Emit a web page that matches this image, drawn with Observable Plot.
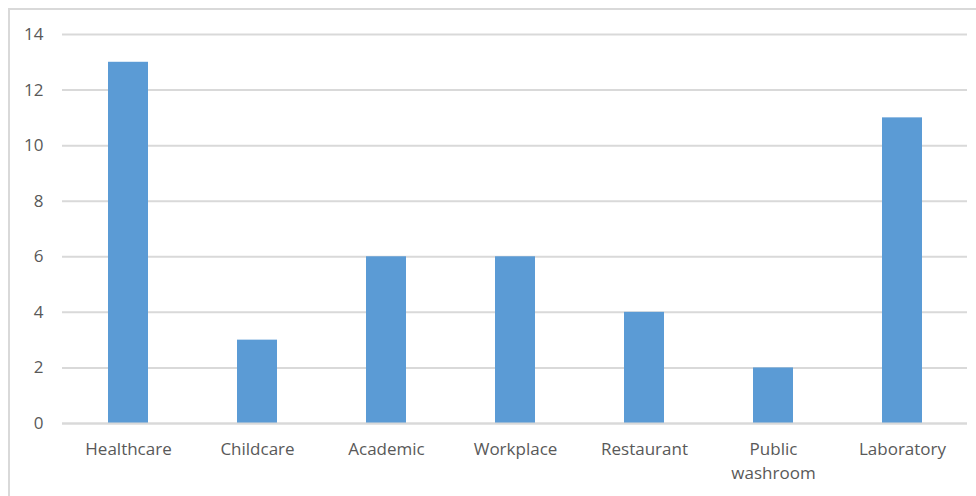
<!DOCTYPE html>
<html>
<head>
<meta charset="utf-8">
<script src="https://cdn.jsdelivr.net/npm/d3@7"></script>
<script src="https://cdn.jsdelivr.net/npm/@observablehq/plot@0.6"></script>
<style>
  html, body { margin: 0; padding: 0; background: #fff; }
  #wrap { position: relative; width: 976px; height: 496px; overflow: hidden; }
  #frame { position: absolute; left: 8px; top: 8px; width: 980px; height: 500px;
           border-top: 2px solid #d9d9d9; border-left: 2px solid #d9d9d9; box-sizing: border-box; }
  #chart { position: absolute; left: 0; top: 0; }
</style>
</head>
<body>
<div id="wrap"><div id="frame"></div><div id="chart"></div></div>
<script>
const categories = ["Healthcare", "Childcare", "Academic", "Workplace", "Restaurant", "Public washroom", "Laboratory"];
const values = [13, 3, 6, 6, 4, 2, 11];
const yTicks = [0, 2, 4, 6, 8, 10, 12, 14];
const xLabels = ["Healthcare", "Childcare", "Academic", "Workplace", "Restaurant", "Public\nwashroom", "Laboratory"];

const data = categories.map((c, i) => ({category: c, value: values[i]}));
const labelOf = new Map(categories.map((c, i) => [c, xLabels[i]]));

const chart = Plot.plot({
  width: 976,
  height: 496,
  marginLeft: 62,
  marginRight: 9,
  marginTop: 34,
  marginBottom: 73,
  style: {fontFamily: "'Open Sans', sans-serif", fontSize: "17px", color: "#595959", background: "transparent"},
  x: {domain: categories, paddingInner: 0.69, paddingOuter: 0.345, label: null},
  y: {domain: [0, 14], label: null},
  marks: [
    Plot.gridY(yTicks, {stroke: "#d9d9d9", strokeOpacity: 1, strokeWidth: 2}),
    Plot.barY(data, {x: "category", y: "value", fill: "#5b9bd5"}),
    Plot.ruleY([0], {stroke: "#d9d9d9", strokeWidth: 2}),
    Plot.axisY(yTicks, {tickSize: 0, tickPadding: 19, fill: "#595959", fontSize: 17, label: null}),
    Plot.axisX({tickSize: 0, tickPadding: 14, fill: "#595959", fontSize: 17, lineHeight: 1.42, label: null,
                tickFormat: d => labelOf.get(d)})
  ]
});
document.getElementById("chart").appendChild(chart);
</script>
</body>
</html>
